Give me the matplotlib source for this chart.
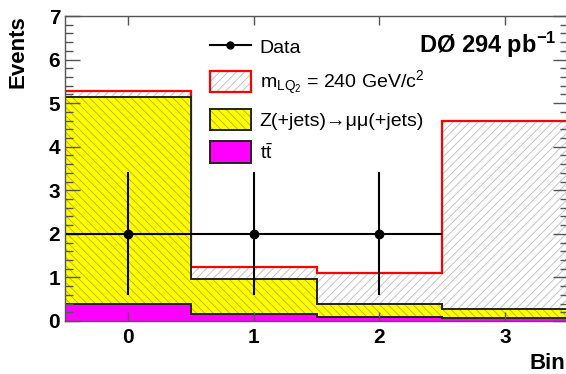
import numpy as np
import matplotlib
matplotlib.use("Agg")
import matplotlib.pyplot as plt
from matplotlib.lines import Line2D
from matplotlib.patches import Patch

plt.rcParams['font.family'] = ['Liberation Sans', 'DejaVu Sans']
plt.rcParams['mathtext.fontset'] = 'custom'
plt.rcParams['mathtext.rm'] = 'Liberation Sans'
plt.rcParams['mathtext.it'] = 'Liberation Sans:italic'
plt.rcParams['mathtext.bf'] = 'Liberation Sans:bold'
plt.rcParams['hatch.linewidth'] = 0.7

# bin contents
bins = [0, 1, 2, 3]
ttbar = [0.38, 0.15, 0.10, 0.07]
zjets = [4.76, 0.81, 0.28, 0.21]
lq240 = [0.13, 0.28, 0.72, 4.31]
data = [2, 2, 2, 0]

edges = np.arange(len(bins) + 1) - 0.5
tt_top = np.array(ttbar)
z_top = tt_top + np.array(zjets)
lq_top = z_top + np.array(lq240)

fig = plt.figure(figsize=(5.66, 3.74), dpi=100)
ax = fig.add_axes([65 / 566, 1 - 321 / 374, 503 / 566, 305 / 374])

# stack: total first, lower components drawn on top of it
ax.stairs(lq_top, edges, baseline=0, fill=True, facecolor='white',
          edgecolor='#c4c4c4', hatch='////', linewidth=0)
ax.stairs(lq_top, edges, baseline=None, color='#ff0000', linewidth=1.6)

ax.stairs(z_top, edges, baseline=0, fill=True, facecolor='#ffff00',
          edgecolor='#c8b800', hatch='\\\\\\\\', linewidth=0)
ax.stairs(z_top, edges, baseline=None, color='#222222', linewidth=1.4)

ax.stairs(tt_top, edges, baseline=0, fill=True, facecolor='#ff00ff', linewidth=0)
ax.stairs(tt_top, edges, baseline=None, color='#222222', linewidth=1.4)

# data points (empty bins are not drawn)
x = np.array(bins)
d = np.array(data, dtype=float)
m = d > 0
ax.errorbar(x[m], d[m], xerr=0.5, yerr=np.sqrt(d[m]), fmt='o', color='k',
            ms=6, lw=1.5, capsize=0)

ax.set_xlim(-0.5, 3.5)
ax.set_ylim(0, 7)
ax.set_xticks(bins)
ax.set_yticks(range(8))
ax.set_yticks(np.arange(0, 7.01, 0.2), minor=True)
ax.tick_params(which='both', direction='in', top=True, right=True, width=1,
               color='#555555')
ax.tick_params(axis='y', which='major', length=10.8, pad=3.5)
ax.tick_params(axis='y', which='minor', length=5.8)
ax.tick_params(axis='x', which='major', length=6.8, pad=5)
ax.tick_params(axis='x', which='minor', length=0)
for lab in ax.get_xticklabels() + ax.get_yticklabels():
    lab.set_fontsize(15)
    lab.set_fontweight('bold')
for s in ax.spines.values():
    s.set_color('#555555')
    s.set_linewidth(1)

fig.text(18 / 566, 1 - 15 / 374, 'Events', rotation=90, ha='center', va='top',
         fontsize=16, fontweight='bold')
fig.text(565 / 566, 1 - 369 / 374, 'Bin', ha='right', va='baseline',
         fontsize=16, fontweight='bold')
fig.text(556 / 566, 1 - 53 / 374, r'DØ 294 pb$^{\mathbf{-1}}$', ha='right',
         va='baseline', fontsize=17, fontweight='bold')

handles = [
    Line2D([], [], color='k', marker='o', ms=5, lw=1.5),
    (Patch(facecolor='white', edgecolor='#c4c4c4', hatch='////', linewidth=0),
     Patch(fill=False, edgecolor='#ff0000', linewidth=1.6)),
    (Patch(facecolor='#ffff00', edgecolor='#c8b800', hatch='\\\\\\\\', linewidth=0),
     Patch(fill=False, edgecolor='#222222', linewidth=1.4)),
    Patch(facecolor='#ff00ff', edgecolor='#222222', linewidth=1.4),
]
labels = [
    'Data',
    r'm$_{\mathregular{LQ}_{\mathregular{2}}}$ = 240 GeV/c$^{\mathregular{2}}$',
    'Z(+jets)→μμ(+jets)',
    r't$\mathregular{\bar{t}}$',
]
ax.legend(handles, labels, loc='upper left', bbox_to_anchor=(210 / 566, 1 - 36 / 374),
          bbox_transform=fig.transFigure, frameon=False, borderpad=0,
          fontsize=14, handlelength=2.1, handleheight=1.3, handletextpad=0.45,
          labelspacing=0.6, borderaxespad=0)

fig.savefig('out.png', dpi=100)
